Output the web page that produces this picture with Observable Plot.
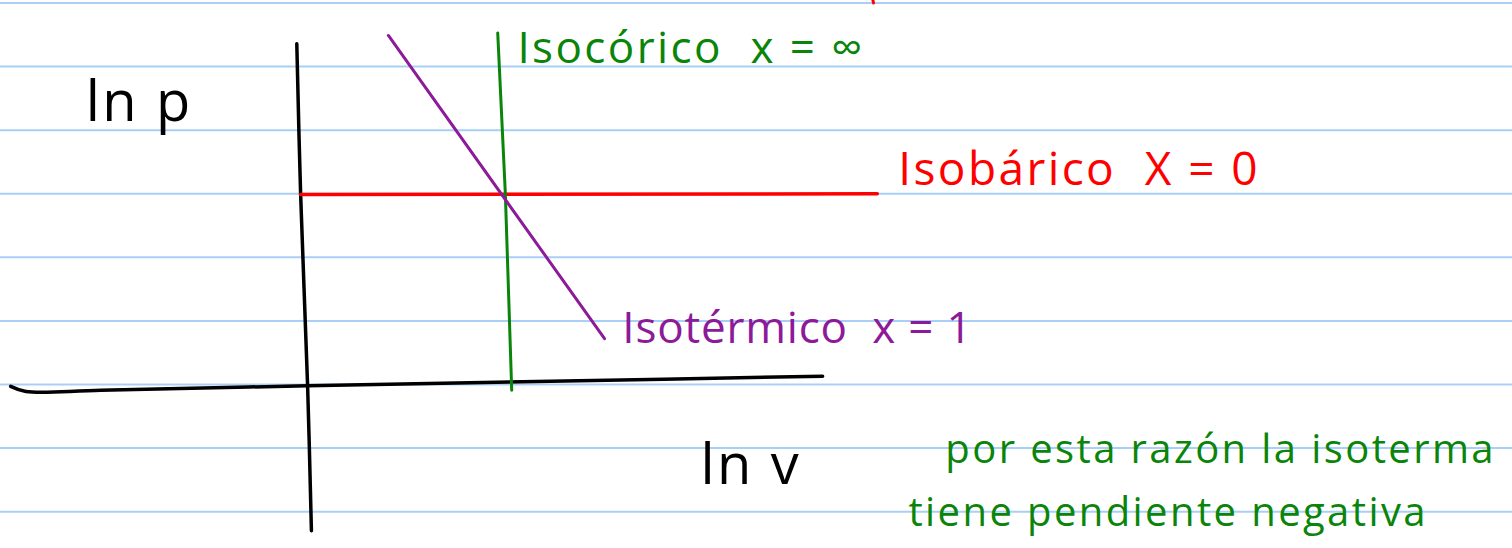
<!DOCTYPE html>
<html>
<head>
<meta charset="utf-8">
<script src="https://cdn.jsdelivr.net/npm/d3@7"></script>
<script src="https://cdn.jsdelivr.net/npm/@observablehq/plot@0.6"></script>
<style>
  html, body { margin: 0; padding: 0; background: #ffffff; }
  #chart svg { display: block; }
  /* loose, hand-lettered spacing */
  #chart svg text { letter-spacing: 2.4px; }
  #chart svg g[fill="#8c1a99"] text { letter-spacing: 0.8px; }
</style>
</head>
<body>
<div id="chart"></div>
<script>
// Notebook sketch: ln p versus ln v for the polytropic family p·v^x = const.
// Units: one ruled line of the notebook = 1 unit on both axes.

// Ruled notebook lines (ln p values)
const ruledLines = [-2, -1, 0, 1, 2, 3, 4, 5, 6];

// Hand-drawn axes
const pAxisX = [-0.17, -0.11, 0.0, 0.06];
const pAxisY = [5.36, 3.0, -0.02, -2.30];
const vAxisX = [-4.67, -4.43, -3.25, 0.0, 3.82, 8.10];
const vAxisY = [-0.03, -0.11, -0.09, -0.02, 0.05, 0.13];

// Isobaric process (x = 0): horizontal line
const isobaricX = [-0.11, 8.96];
const isobaricY = [2.99, 3.0];

// Isochoric process (x = ∞): vertical line
const isochoricX = [2.99, 3.11, 3.21];
const isochoricY = [5.53, 3.0, -0.09];

// Isothermal process (x = 1): negative slope
const isothermalX = [1.27, 4.67];
const isothermalY = [5.49, 0.72];

// Stray red tick at the top edge
const strayX = [8.88, 8.90];
const strayY = [6.1, 6.0];

// Labels
const labelText = [
  "ln p",
  "Isocórico  x = ∞",
  "Isobárico  X = 0",
  "Isotérmico  x = 1",
  "ln v",
  "por esta razón la isoterma",
  "tiene pendiente negativa"
];
const labelX = [-3.49, 3.30, 9.29, 4.95, 6.18, 10.03, 9.45];
const labelY = [4.15, 5.06, 3.13, 0.66, -1.56, -1.23, -2.22];

const pts = (xs, ys) => xs.map((x, i) => ({x, y: ys[i]}));

const black = "#000000";
const red = "#ff0000";
const green = "#0a850a";
const purple = "#8c1a99";
const blue = "#a9cff7";

const labels = labelText.map((t, i) => ({t, x: labelX[i], y: labelY[i], i}));
const pick = (...idx) => labels.filter(d => idx.includes(d.i));

const textOpts = (fill, size) => ({
  x: "x", y: "y", text: "t",
  fill, fontSize: size,
  textAnchor: "start", lineAnchor: "bottom",
  fontFamily: "Open Sans"
});

const chart = Plot.plot({
  width: 1512,
  height: 548,
  margin: 0,
  x: {domain: [-4.83, 18.95], axis: null},
  y: {domain: [-2.58, 6.04], axis: null},
  style: {background: "#ffffff", overflow: "visible"},
  marks: [
    Plot.ruleY(ruledLines, {stroke: blue, strokeWidth: 2}),
    Plot.line(pts(pAxisX, pAxisY), {x: "x", y: "y", stroke: black, strokeWidth: 3.5, curve: "catmull-rom"}),
    Plot.line(pts(vAxisX, vAxisY), {x: "x", y: "y", stroke: black, strokeWidth: 3.5, curve: "catmull-rom"}),
    Plot.line(pts(isobaricX, isobaricY), {x: "x", y: "y", stroke: red, strokeWidth: 3.5}),
    Plot.line(pts(isochoricX, isochoricY), {x: "x", y: "y", stroke: green, strokeWidth: 3}),
    Plot.line(pts(isothermalX, isothermalY), {x: "x", y: "y", stroke: purple, strokeWidth: 3}),
    Plot.line(pts(strayX, strayY), {x: "x", y: "y", stroke: red, strokeWidth: 3}),
    Plot.text(pick(0, 4), textOpts(black, 56)),
    Plot.text(pick(1), textOpts(green, 44)),
    Plot.text(pick(2), textOpts(red, 46)),
    Plot.text(pick(3), textOpts(purple, 44)),
    Plot.text(pick(5, 6), textOpts(green, 40))
  ]
});

document.getElementById("chart").appendChild(chart);
</script>
</body>
</html>
